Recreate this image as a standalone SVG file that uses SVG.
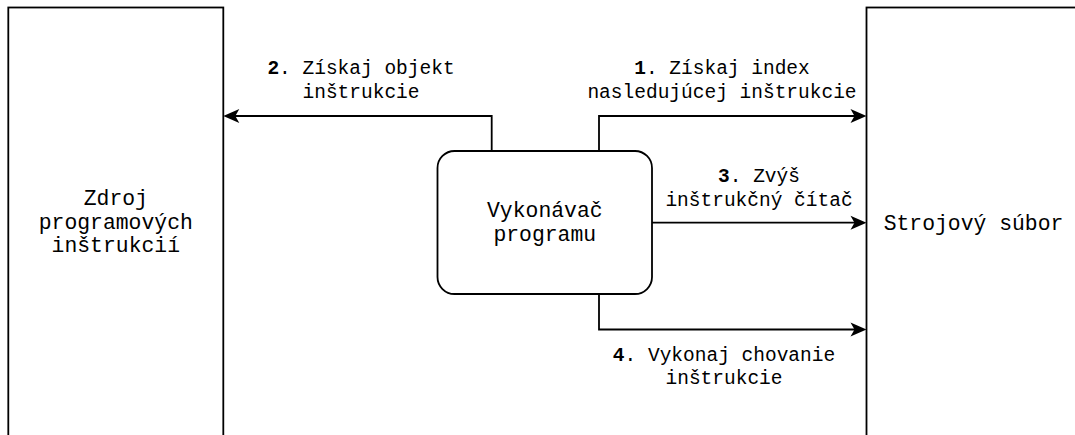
<svg xmlns="http://www.w3.org/2000/svg" width="1075" height="435" viewBox="0 0 1075 435">
  <defs>
    <style>
      .box { fill: #ffffff; stroke: #000000; stroke-width: 1.8; }
      .edge { fill: none; stroke: #000000; stroke-width: 1.8; }
      .nlabel { font-family: "Liberation Mono", "Courier New", monospace; font-size: 21.4px; fill: #000000; text-anchor: middle; }
      .elabel { font-family: "Liberation Mono", "Courier New", monospace; font-size: 19.5px; fill: #000000; text-anchor: middle; }
      .num { font-weight: bold; }
    </style>
    <marker id="arr" markerUnits="userSpaceOnUse" markerWidth="20" markerHeight="18" viewBox="-17 -9 18 18" refX="-4" refY="0" orient="auto">
      <path d="M0,0 L-16,-7 L-12,0 L-16,7 Z" fill="#000000"/>
    </marker>
  </defs>

  <g id="zdroj">
    <rect class="box" x="8.3" y="7.5" width="215" height="440"/>
    <text class="nlabel" x="115.8"><tspan x="115.8" y="205">Zdroj</tspan><tspan x="115.8" y="228.5">programových</tspan><tspan x="115.8" y="252">inštrukcií</tspan></text>
  </g>

  <g id="strojovy">
    <rect class="box" x="866.5" y="7.5" width="215" height="440"/>
    <text class="nlabel" x="973.5" y="229.5">Strojový súbor</text>
  </g>

  <g id="vykonavac">
    <rect class="box" x="437.5" y="151" width="214.5" height="143" rx="17" ry="17"/>
    <text class="nlabel" x="544.8"><tspan x="544.8" y="217">Vykonávač</tspan><tspan x="544.8" y="240.5">programu</tspan></text>
  </g>

  <g id="connectors">
    <path class="edge" d="M599,151 V116 H862.5" marker-end="url(#arr)"/>
    <path class="edge" d="M491.7,151 V116 H227.3" marker-end="url(#arr)"/>
    <path class="edge" d="M652,222.7 H862.5" marker-end="url(#arr)"/>
    <path class="edge" d="M599,294 V329.5 H862.5" marker-end="url(#arr)"/>

    <text class="elabel"><tspan x="722" y="74"><tspan class="num">1</tspan>. Získaj index</tspan><tspan x="722" y="97.5">nasledujúcej inštrukcie</tspan></text>
    <text class="elabel"><tspan x="361" y="74"><tspan class="num">2</tspan>. Získaj objekt</tspan><tspan x="361" y="97.5">inštrukcie</tspan></text>
    <text class="elabel"><tspan x="759" y="182"><tspan class="num">3</tspan>. Zvýš</tspan><tspan x="759" y="205.5">inštrukčný čítač</tspan></text>
    <text class="elabel"><tspan x="724" y="360.5"><tspan class="num">4</tspan>. Vykonaj chovanie</tspan><tspan x="724" y="384">inštrukcie</tspan></text>
  </g>
</svg>
